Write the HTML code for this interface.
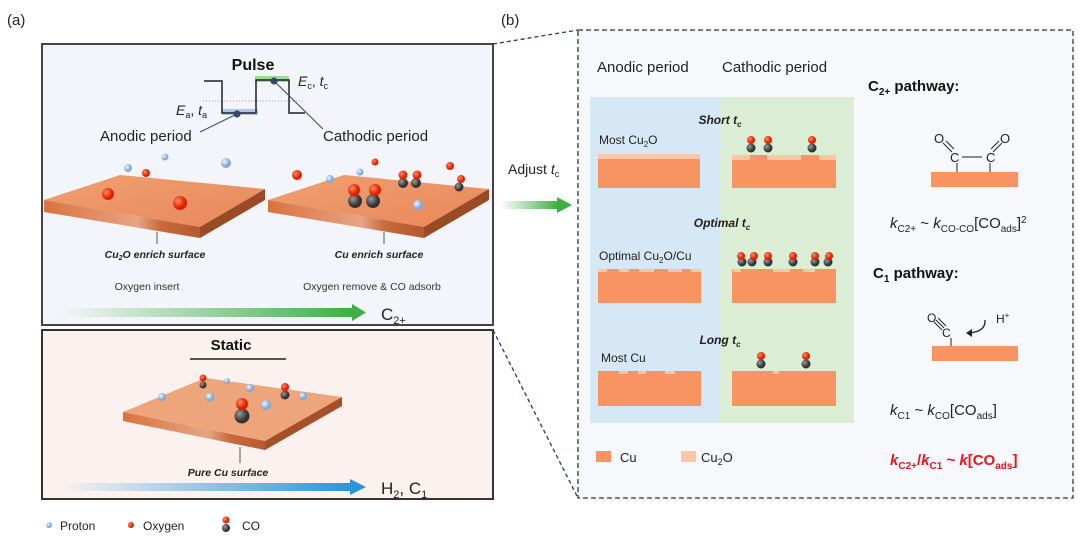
<!DOCTYPE html>
<html><head><meta charset="utf-8"><style>
body{margin:0;background:#fff;}
svg{display:block;font-family:"Liberation Sans",Arial,sans-serif;}
</style></head><body>
<svg width="1080" height="538" viewBox="0 0 1080 538" xmlns="http://www.w3.org/2000/svg">
<defs>
<linearGradient id="gg" x1="0" x2="1"><stop offset="0" stop-color="#4caf50" stop-opacity="0"/><stop offset="1" stop-color="#3fae46"/></linearGradient>
<linearGradient id="bg" x1="0" x2="1"><stop offset="0" stop-color="#2f9be0" stop-opacity="0"/><stop offset="1" stop-color="#2a93dc"/></linearGradient>
<linearGradient id="top" x1="0" y1="0" x2="1" y2="1"><stop offset="0" stop-color="#f0a070"/><stop offset="1" stop-color="#e8875a"/></linearGradient>
<linearGradient id="side" x1="0" x2="1"><stop offset="0" stop-color="#d9733f"/><stop offset=".6" stop-color="#e6a483"/><stop offset=".75" stop-color="#c86a3a"/><stop offset="1" stop-color="#b45a30"/></linearGradient>
<radialGradient id="red" cx=".35" cy=".35"><stop offset="0" stop-color="#ff8a60"/><stop offset="1" stop-color="#e02000"/></radialGradient>
<radialGradient id="blu" cx=".35" cy=".35"><stop offset="0" stop-color="#eef6ff"/><stop offset="1" stop-color="#7fa9d6"/></radialGradient>
<radialGradient id="gry" cx=".35" cy=".35"><stop offset="0" stop-color="#999"/><stop offset="1" stop-color="#333"/></radialGradient>
</defs>

<text x="7" y="25" font-size="15" fill="#222">(a)</text>
<text x="501" y="25" font-size="15" fill="#222">(b)</text>

<!-- Pulse box -->
<rect x="42" y="44" width="451" height="281" fill="#f3f5fa" stroke="#444" stroke-width="2"/>
<text x="253" y="70" font-size="16" font-weight="bold" text-anchor="middle" fill="#111">Pulse</text>
<!-- waveform -->
<rect x="222" y="109" width="36" height="6" fill="#aac8ea"/>
<rect x="255" y="76" width="34" height="6" fill="#9fdc96"/>
<line x1="203" y1="101" x2="305" y2="101" stroke="#999" stroke-dasharray="1,2"/>
<polyline points="204,81 222,81 222,113 256,113 256,80 289,80 289,113 305,113" fill="none" stroke="#222" stroke-width="1.5"/>
<circle cx="237" cy="114" r="3.5" fill="#2b4a6b"/>
<circle cx="274" cy="81" r="3.5" fill="#2b4a6b"/>
<line x1="237" y1="114" x2="200" y2="132" stroke="#2b4a6b"/>
<line x1="274" y1="81" x2="323" y2="129" stroke="#2b4a6b"/>
<text x="176" y="115" font-size="14" fill="#222"><tspan font-style="italic">E</tspan><tspan font-size="9" dy="3">a</tspan><tspan dy="-3">, </tspan><tspan font-style="italic">t</tspan><tspan font-size="9" dy="3">a</tspan></text>
<text x="298" y="86" font-size="14" fill="#222"><tspan font-style="italic">E</tspan><tspan font-size="9" dy="3">c</tspan><tspan dy="-3">, </tspan><tspan font-style="italic">t</tspan><tspan font-size="9" dy="3">c</tspan></text>
<text x="100" y="141" font-size="15" fill="#222">Anodic period</text>
<text x="323" y="141" font-size="15" fill="#222">Cathodic period</text>

<!-- left slab -->
<g>
<polygon points="44,200 120,175 265,189 200,227" fill="url(#top)"/>
<polygon points="44,200 200,227 200,238 44,212" fill="url(#side)"/>
<polygon points="200,227 265,189 265,200 200,238" fill="#9a4a25"/>
<line x1="157" y1="232" x2="157" y2="244" stroke="#555"/>
<circle cx="108" cy="194" r="6" fill="url(#red)"/>
<circle cx="180" cy="203" r="7" fill="url(#red)"/>
<circle cx="146" cy="173" r="4" fill="url(#red)"/>
<circle cx="128" cy="168" r="4" fill="url(#blu)"/>
<circle cx="165" cy="157" r="3.5" fill="url(#blu)"/>
<circle cx="226" cy="163" r="5" fill="url(#blu)"/>
</g>
<text x="155" y="258" font-size="10.5" font-weight="bold" font-style="italic" text-anchor="middle" fill="#222">Cu<tspan font-size="7" dy="2">2</tspan><tspan dy="-2">O enrich surface</tspan></text>
<text x="147" y="290" font-size="10.5" text-anchor="middle" fill="#333">Oxygen insert</text>

<!-- right slab -->
<g>
<polygon points="268,200 344,175 489,189 424,227" fill="url(#top)"/>
<polygon points="268,200 424,227 424,238 268,212" fill="url(#side)"/>
<polygon points="424,227 489,189 489,200 424,238" fill="#9a4a25"/>
<line x1="384" y1="232" x2="384" y2="244" stroke="#555"/>
<circle cx="297" cy="175" r="5" fill="url(#red)"/>
<circle cx="375" cy="162" r="3.5" fill="url(#red)"/>
<circle cx="450" cy="166" r="4" fill="url(#red)"/>
<circle cx="330" cy="179" r="4" fill="url(#blu)"/>
<circle cx="360" cy="172" r="3.5" fill="url(#blu)"/>
<circle cx="418" cy="205" r="5" fill="url(#blu)"/>
<circle cx="355" cy="201" r="7" fill="url(#gry)"/><circle cx="354" cy="190" r="6" fill="url(#red)"/>
<circle cx="373" cy="201" r="7" fill="url(#gry)"/><circle cx="375" cy="190" r="6" fill="url(#red)"/>
<circle cx="403" cy="183" r="5" fill="url(#gry)"/><circle cx="403" cy="175" r="4.5" fill="url(#red)"/>
<circle cx="416" cy="183" r="5" fill="url(#gry)"/><circle cx="417" cy="175" r="4.5" fill="url(#red)"/>
<circle cx="459" cy="187" r="4.5" fill="url(#gry)"/><circle cx="461" cy="179" r="4" fill="url(#red)"/>
</g>
<text x="379" y="258" font-size="10.5" font-weight="bold" font-style="italic" text-anchor="middle" fill="#222">Cu enrich surface</text>
<text x="372" y="290" font-size="10.5" text-anchor="middle" fill="#333">Oxygen remove &amp; CO adsorb</text>
<rect x="60" y="308" width="292" height="9" fill="url(#gg)"/>
<polygon points="352,304 366,312.5 352,321" fill="#3fae46"/>
<text x="381" y="320" font-size="17" fill="#222">C<tspan font-size="11" dy="4">2+</tspan></text>

<!-- Static box -->
<rect x="42" y="330" width="451" height="169" fill="#fbf1ee" stroke="#333" stroke-width="2"/>
<text x="231" y="350" font-size="15" font-weight="bold" text-anchor="middle" fill="#111">Static</text>
<line x1="190" y1="359" x2="286" y2="359" stroke="#222" stroke-width="1.5"/>
<polygon points="123,412 205,378 342,397 265,441" fill="#eea57c"/>
<polygon points="123,412 265,441 265,450 123,421" fill="url(#side)"/>
<polygon points="265,441 342,397 342,406 265,450" fill="#a55028"/>
<line x1="240" y1="447" x2="240" y2="463" stroke="#555"/>
<circle cx="162" cy="397" r="4" fill="url(#blu)"/>
<circle cx="210" cy="397" r="4.5" fill="url(#blu)"/>
<circle cx="227" cy="381" r="3" fill="url(#blu)"/>
<circle cx="250" cy="388" r="4" fill="url(#blu)"/>
<circle cx="266" cy="405" r="5" fill="url(#blu)"/>
<circle cx="303" cy="396" r="4" fill="url(#blu)"/>
<circle cx="203" cy="385" r="3.5" fill="url(#gry)"/><circle cx="203" cy="378" r="3.5" fill="url(#red)"/>
<circle cx="285" cy="395" r="4.5" fill="url(#gry)"/><circle cx="285" cy="387" r="4" fill="url(#red)"/>
<circle cx="242" cy="416" r="7.5" fill="url(#gry)"/><circle cx="242" cy="404" r="6" fill="url(#red)"/>
<text x="228" y="476" font-size="10.5" font-weight="bold" font-style="italic" text-anchor="middle" fill="#222">Pure Cu surface</text>
<rect x="60" y="483" width="292" height="8" fill="url(#bg)"/>
<polygon points="350,479 366,487 350,495" fill="#2a93dc"/>
<text x="381" y="494" font-size="17" fill="#222">H<tspan font-size="11" dy="4">2</tspan><tspan dy="-4">, C</tspan><tspan font-size="11" dy="4">1</tspan></text>

<!-- bottom legend -->
<circle cx="49" cy="525" r="3" fill="url(#blu)"/>
<text x="60" y="530" font-size="12" fill="#222">Proton</text>
<circle cx="131" cy="525" r="3" fill="url(#red)"/>
<text x="143" y="530" font-size="12" fill="#222">Oxygen</text>
<circle cx="226" cy="528" r="4" fill="url(#gry)"/><circle cx="226" cy="520" r="3.5" fill="url(#red)"/>
<text x="242" y="530" font-size="12" fill="#222">CO</text>

<!-- dashed connectors -->
<line x1="493" y1="44" x2="578" y2="30" stroke="#1f3a6e" stroke-dasharray="4,3" stroke-width="1.3"/>
<line x1="493" y1="330" x2="578" y2="498" stroke="#1f3a6e" stroke-dasharray="4,3" stroke-width="1.3"/>
<text x="508" y="174" font-size="14" fill="#222">Adjust <tspan font-style="italic">t</tspan><tspan font-size="9" dy="3">c</tspan></text>
<rect x="500" y="201" width="58" height="8" fill="url(#gg)"/>
<polygon points="557,197 572,205 557,213" fill="#3fae46"/>

<!-- right panel -->
<rect x="578" y="30" width="495" height="468" fill="#f7f8fb" stroke="#333" stroke-dasharray="5,3" stroke-width="1.3"/>
<text x="597" y="72" font-size="15" fill="#222">Anodic period</text>
<text x="722" y="72" font-size="15" fill="#222">Cathodic period</text>
<rect x="590" y="97" width="130" height="326" fill="#d6e7f5"/>
<rect x="720" y="97" width="134" height="326" fill="#dcedd5"/>

<text x="720" y="124" font-size="12" font-weight="bold" font-style="italic" text-anchor="middle" fill="#222">Short t<tspan font-size="8" dy="3">c</tspan></text>
<text x="599" y="144" font-size="12" fill="#222">Most Cu<tspan font-size="8" dy="3">2</tspan><tspan dy="-3">O</tspan></text>
<rect x="598" y="154" width="102" height="34" fill="#f79462"/>
<rect x="598" y="154" width="102" height="5" fill="#fcc6a6"/>
<rect x="732" y="155" width="104" height="33" fill="#f79462"/>
<rect x="732" y="155" width="18" height="5" fill="#fcc6a6"/><rect x="767" y="155" width="34" height="5" fill="#fcc6a6"/><rect x="819" y="155" width="17" height="5" fill="#fcc6a6"/>

<text x="722" y="227" font-size="12" font-weight="bold" font-style="italic" text-anchor="middle" fill="#222">Optimal t<tspan font-size="8" dy="3">c</tspan></text>
<text x="599" y="260" font-size="12" fill="#222">Optimal Cu<tspan font-size="8" dy="3">2</tspan><tspan dy="-3">O/Cu</tspan></text>
<rect x="598" y="269" width="103" height="34" fill="#f79462"/>
<rect x="598" y="269" width="9" height="3" fill="#fcc6a6"/><rect x="619" y="269" width="10" height="3" fill="#fcc6a6"/><rect x="639" y="269" width="15" height="3" fill="#fcc6a6"/><rect x="668" y="269" width="14" height="3" fill="#fcc6a6"/><rect x="691" y="269" width="10" height="3" fill="#fcc6a6"/>
<rect x="732" y="269" width="104" height="34" fill="#f79462"/>
<rect x="733" y="269" width="8" height="3" fill="#fcc6a6"/><rect x="773" y="269" width="17" height="3" fill="#fcc6a6"/><rect x="803" y="269" width="12" height="3" fill="#fcc6a6"/>

<text x="720" y="344" font-size="12" font-weight="bold" font-style="italic" text-anchor="middle" fill="#222">Long t<tspan font-size="8" dy="3">c</tspan></text>
<text x="601" y="362" font-size="12" fill="#222">Most Cu</text>
<rect x="598" y="371" width="103" height="35" fill="#f79462"/>
<rect x="619" y="371" width="9" height="3" fill="#fcc6a6"/><rect x="638" y="371" width="8" height="3" fill="#fcc6a6"/><rect x="665" y="371" width="10" height="3" fill="#fcc6a6"/>
<rect x="732" y="371" width="104" height="35" fill="#f79462"/>
<rect x="773" y="371" width="6" height="3" fill="#fcc6a6"/>

<!-- CO on cathodic slabs -->
<g>
<circle cx="751" cy="148" r="4.5" fill="url(#gry)"/><circle cx="751" cy="140" r="4" fill="url(#red)"/>
<circle cx="768" cy="148" r="4.5" fill="url(#gry)"/><circle cx="768" cy="140" r="4" fill="url(#red)"/>
<circle cx="812" cy="148" r="4.5" fill="url(#gry)"/><circle cx="812" cy="140" r="4" fill="url(#red)"/>
<circle cx="742" cy="262" r="4.5" fill="url(#gry)"/><circle cx="741" cy="256" r="4" fill="url(#red)"/>
<circle cx="752" cy="262" r="4.5" fill="url(#gry)"/><circle cx="754" cy="256" r="4" fill="url(#red)"/>
<circle cx="768" cy="262" r="4.5" fill="url(#gry)"/><circle cx="768" cy="256" r="4" fill="url(#red)"/>
<circle cx="793" cy="262" r="4.5" fill="url(#gry)"/><circle cx="793" cy="256" r="4" fill="url(#red)"/>
<circle cx="815" cy="262" r="4.5" fill="url(#gry)"/><circle cx="815" cy="256" r="4" fill="url(#red)"/>
<circle cx="828" cy="262" r="4.5" fill="url(#gry)"/><circle cx="829" cy="256" r="4" fill="url(#red)"/>
<circle cx="761" cy="364" r="4.5" fill="url(#gry)"/><circle cx="761" cy="356" r="4" fill="url(#red)"/>
<circle cx="806" cy="364" r="4.5" fill="url(#gry)"/><circle cx="806" cy="356" r="4" fill="url(#red)"/>
</g>

<!-- legend -->
<rect x="596" y="451" width="15" height="11" fill="#f79462"/>
<text x="620" y="462" font-size="13" fill="#222">Cu</text>
<rect x="681" y="451" width="15" height="11" fill="#fcc6a6"/>
<text x="701" y="462" font-size="13" fill="#222">Cu<tspan font-size="9" dy="3">2</tspan><tspan dy="-3">O</tspan></text>

<!-- pathways -->
<text x="868" y="91" font-size="15" font-weight="bold" fill="#111">C<tspan font-size="10" dy="4">2+</tspan><tspan dy="-4"> pathway:</tspan></text>
<rect x="931" y="172" width="87" height="15" fill="#f79462"/>
<g font-size="13" fill="#222">
<text x="934" y="143">O</text><text x="950" y="162">C</text>
<text x="986" y="162">C</text><text x="1000" y="143">O</text>
<line x1="943" y1="143" x2="952" y2="152" stroke="#222"/><line x1="946" y1="141" x2="954" y2="149" stroke="#222"/>
<line x1="993" y1="152" x2="1002" y2="143" stroke="#222"/><line x1="991" y1="149" x2="999" y2="141" stroke="#222"/>
<line x1="962" y1="157" x2="982" y2="157" stroke="#222"/>
<line x1="957" y1="163" x2="957" y2="172" stroke="#222"/><line x1="990" y1="163" x2="990" y2="172" stroke="#222"/>
</g>
<text x="890" y="228" font-size="15" fill="#222"><tspan font-style="italic">k</tspan><tspan font-size="10" dy="4">C2+</tspan><tspan dy="-4"> ~ </tspan><tspan font-style="italic">k</tspan><tspan font-size="10" dy="4">CO-CO</tspan><tspan dy="-4">[CO</tspan><tspan font-size="10" dy="4">ads</tspan><tspan dy="-4">]</tspan><tspan font-size="10" dy="-5">2</tspan></text>
<text x="873" y="278" font-size="15" font-weight="bold" fill="#111">C<tspan font-size="10" dy="4">1</tspan><tspan dy="-4"> pathway:</tspan></text>
<rect x="932" y="346" width="86" height="15" fill="#f79462"/>
<g font-size="12" fill="#222">
<text x="927" y="322">O</text><text x="942" y="337">C</text>
<line x1="936" y1="320" x2="944" y2="328" stroke="#222"/><line x1="938" y1="318" x2="946" y2="326" stroke="#222"/><line x1="934" y1="322" x2="942" y2="330" stroke="#222"/>
<line x1="951" y1="338" x2="951" y2="346" stroke="#222"/>
<path d="M985,320 Q986,332 968,333" fill="none" stroke="#222" stroke-width="1.3"/>
<polygon points="966,333 972,329 972,337" fill="#222"/>
<text x="996" y="323">H<tspan font-size="8" dy="-5">+</tspan></text>
</g>
<text x="890" y="415" font-size="15" fill="#222"><tspan font-style="italic">k</tspan><tspan font-size="10" dy="4">C1</tspan><tspan dy="-4"> ~ </tspan><tspan font-style="italic">k</tspan><tspan font-size="10" dy="4">CO</tspan><tspan dy="-4">[CO</tspan><tspan font-size="10" dy="4">ads</tspan><tspan dy="-4">]</tspan></text>
<text x="890" y="465" font-size="15" font-weight="bold" fill="#e8161b"><tspan font-style="italic">k</tspan><tspan font-size="10" dy="4">C2+</tspan><tspan dy="-4">/</tspan><tspan font-style="italic">k</tspan><tspan font-size="10" dy="4">C1</tspan><tspan dy="-4"> ~ </tspan><tspan font-style="italic">k</tspan><tspan>[CO</tspan><tspan font-size="10" dy="4">ads</tspan><tspan dy="-4">]</tspan></text>
</svg>
</body></html>
